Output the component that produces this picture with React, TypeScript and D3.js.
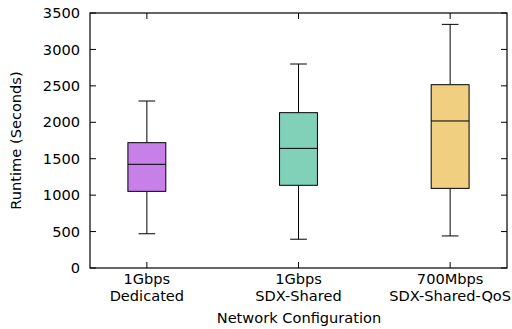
import React from "react";
import * as d3 from "d3";

const categories = ["1Gbps\nDedicated", "1Gbps\nSDX-Shared", "700Mbps\nSDX-Shared-QoS"];
const mins = [470, 395, 440];
const q1s = [1052, 1135, 1093];
const medians = [1423, 1642, 2018];
const q3s = [1720, 2132, 2516];
const maxs = [2292, 2800, 3344];
const colors = ["#c680e8", "#80d1b8", "#f0cf80"];
const yTicks = [0, 500, 1000, 1500, 2000, 2500, 3000, 3500];

const W = 512, H = 329;
const L = 90, R = 507, T = 13, B = 268;

export default function App() {
  const x = d3.scaleLinear().domain([0.625, 3.375]).range([L, R]);
  const y = d3.scaleLinear().domain([0, 3500]).range([B, T]);
  const bw = 0.125;
  const cw = 0.055;
  const font = "DejaVu Sans, sans-serif";
  const fs = 14.6;
  return (
    <svg width={W} height={H} style={{ position: "absolute", left: 0, top: 0 }}>
      <rect width={W} height={H} fill="white" />
      {categories.map((c, i) => {
        const xc = x(i + 1);
        return (
          <g key={i}>
            <line x1={xc} x2={xc} y1={y(q3s[i])} y2={y(maxs[i])} stroke="#000" />
            <line x1={xc} x2={xc} y1={y(q1s[i])} y2={y(mins[i])} stroke="#000" />
            <line x1={x(i + 1 - cw)} x2={x(i + 1 + cw)} y1={y(maxs[i])} y2={y(maxs[i])} stroke="#000" />
            <line x1={x(i + 1 - cw)} x2={x(i + 1 + cw)} y1={y(mins[i])} y2={y(mins[i])} stroke="#000" />
            <rect x={x(i + 1 - bw)} width={x(i + 1 + bw) - x(i + 1 - bw)} y={y(q3s[i])} height={y(q1s[i]) - y(q3s[i])} fill={colors[i]} stroke="#000" />
            <line x1={x(i + 1 - bw)} x2={x(i + 1 + bw)} y1={y(medians[i])} y2={y(medians[i])} stroke="#000" />
            <line x1={xc} x2={xc} y1={B} y2={B - 6} stroke="#000" />
            <line x1={xc} x2={xc} y1={T} y2={T + 6} stroke="#000" />
            {c.split("\n").map((s, k) => (
              <text key={k} x={xc} y={284 + k * 17} textAnchor="middle" fontFamily={font} fontSize={fs} fill="#000">{s}</text>
            ))}
          </g>
        );
      })}
      {yTicks.map((t) => (
        <g key={t}>
          <line x1={L} x2={L + 6} y1={y(t)} y2={y(t)} stroke="#000" />
          <line x1={R} x2={R - 6} y1={y(t)} y2={y(t)} stroke="#000" />
          <text x={80} y={y(t)} dy="0.35em" textAnchor="end" fontFamily={font} fontSize={fs} fill="#000">{t}</text>
        </g>
      ))}
      <rect x={L} y={T} width={R - L} height={B - T} fill="none" stroke="#000" strokeWidth={1.2} />
      <text x={(L + R) / 2 + 0.5} y={323} textAnchor="middle" fontFamily={font} fontSize={fs} fill="#000">Network Configuration</text>
      <text transform={`translate(21,${(T + B) / 2}) rotate(-90)`} textAnchor="middle" fontFamily={font} fontSize={fs} fill="#000">Runtime (Seconds)</text>
    </svg>
  );
}
